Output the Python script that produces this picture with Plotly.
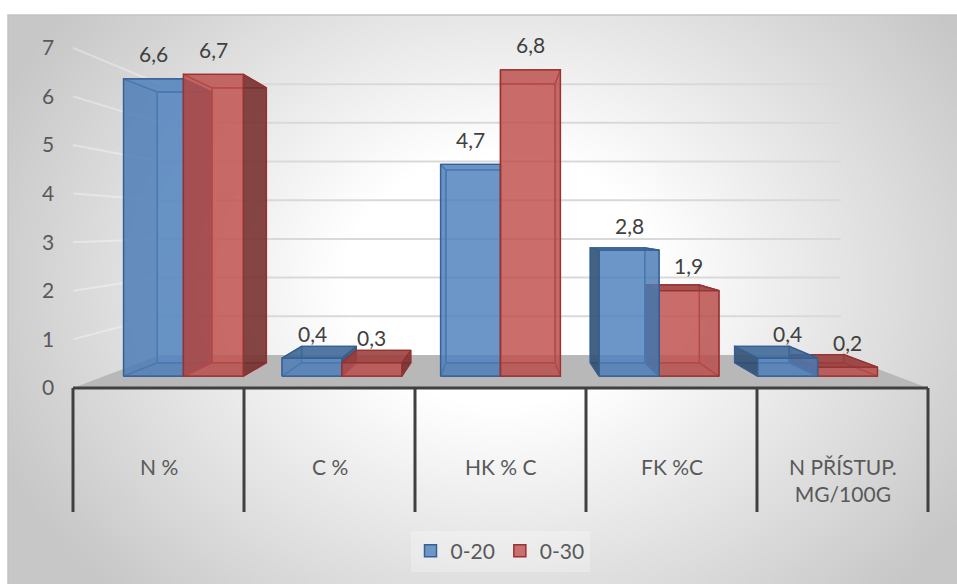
import numpy as np
import plotly.graph_objects as go

# ---- data -------------------------------------------------------------
categories = ["N %", "C %", "HK % C", "FK %C", "N PŘÍSTUP. MG/100G"]
series_names = ["0-20", "0-30"]
values_0_20 = [6.6, 0.4, 4.7, 2.8, 0.4]
values_0_30 = [6.7, 0.3, 6.8, 1.9, 0.2]
y_ticks = [0, 1, 2, 3, 4, 5, 6, 7]

series_values = [values_0_20, values_0_30]
series_rgb = [(79, 129, 189), (192, 80, 77)]
series_edge = ["rgb(54,96,146)", "rgb(152,50,48)"]

# ---- figure geometry (pixels) ----------------------------------------
W, H = 957, 584
OX, OY = 73.0, 388.0      # pixel of (x=0, y=0) on the front plane
PX, PY = 171.0, 48.6      # pixels per category / per value unit

# one-point perspective: vanishing point and depth scales
XV, YV = 2.5, 3.333
S_FRONT, S_BACK, S_WALL = 0.927, 0.844, 0.796
BAR_W = 0.378
TABLE_BOTTOM = (OY - 512) / PY


def px_x(p):
    return (p - OX) / PX


def px_y(p):
    return (OY - p) / PY


def proj(x, y, s):
    return XV + (x - XV) * s, YV + (y - YV) * s


def rgba(rgb, a, k=1.0):
    r, g, b = (int(round(c * k)) for c in rgb)
    return f"rgba({r},{g},{b},{a})"


fig = go.Figure()

# ---- background gradient of the chart area ---------------------------
nx, ny = 96, 57
ex = np.linspace(8, W, nx + 1)
ey = np.linspace(H, 15, ny + 1)          # bottom -> top in data order
cx = (ex[:-1] + ex[1:]) / 2
cy = (ey[:-1] + ey[1:]) / 2
GX, GY = np.meshgrid(cx, cy)
r = np.sqrt(((GX - 500) / 520) ** 2 + ((GY - 280) / 420) ** 2)
t = np.clip((r - 0.3) / 0.75, 0, 1)
shade = 255 - 56 * t
fig.add_trace(go.Heatmap(
    x=px_x(ex), y=px_y(ey), z=shade, zmin=0, zmax=255,
    colorscale=[[0, "rgb(0,0,0)"], [1, "rgb(255,255,255)"]],
    zsmooth="best", showscale=False, hoverinfo="skip",
))

# ---- back wall gridlines ---------------------------------------------
gx, gy = [], []
for k in y_ticks[1:]:
    for p in (proj(0, k, S_WALL), proj(5, k, S_WALL)):
        gx.append(p[0]); gy.append(p[1])
    gx.append(None); gy.append(None)
fig.add_trace(go.Scatter(x=gx, y=gy, mode="lines",
                         line=dict(color="#d9d9d9", width=2),
                         hoverinfo="skip", showlegend=False))

# ---- side wall gridlines ---------------------------------------------
lx, ly = [], []
for k in y_ticks[1:]:
    for p in (proj(0, k, 1.0), proj(0, k, S_WALL)):
        lx.append(p[0]); ly.append(p[1])
    lx.append(None); ly.append(None)
fig.add_trace(go.Scatter(x=lx, y=ly, mode="lines",
                         line=dict(color="rgba(255,255,255,0.35)", width=2),
                         hoverinfo="skip", showlegend=False))

# ---- floor -----------------------------------------------------------
floor = [proj(0, 0, 1.0), proj(5, 0, 1.0), proj(5, 0, S_WALL), proj(0, 0, S_WALL), proj(0, 0, 1.0)]
fig.add_trace(go.Scatter(x=[p[0] for p in floor], y=[p[1] for p in floor],
                         mode="lines", fill="toself", fillcolor="#b8b8b8",
                         line=dict(width=0, color="#b8b8b8"),
                         hoverinfo="skip", showlegend=False))

# ---- 3-D columns -----------------------------------------------------
bars = []
for j, vals in enumerate(series_values):
    for i, v in enumerate(vals):
        x0 = i + 0.5 - BAR_W + j * BAR_W
        bars.append((abs(x0 + BAR_W / 2 - XV), i, j, x0, v))
bars.sort(key=lambda b: -b[0])


def face(pts, fill, edge):
    pp = [proj(*p) for p in pts] + [proj(*pts[0])]
    fig.add_trace(go.Scatter(x=[p[0] for p in pp], y=[p[1] for p in pp],
                             mode="lines", fill="toself", fillcolor=fill,
                             line=dict(color=edge, width=1.3),
                             hoverinfo="skip", showlegend=False))


for _, i, j, x0, v in bars:
    x1 = x0 + BAR_W
    base, edge = series_rgb[j], series_edge[j]
    sf, sb = S_FRONT, S_BACK
    back = [(x0, 0, sb), (x1, 0, sb), (x1, v, sb), (x0, v, sb)]
    bottom = [(x0, 0, sf), (x1, 0, sf), (x1, 0, sb), (x0, 0, sb)]
    left = [(x0, 0, sf), (x0, v, sf), (x0, v, sb), (x0, 0, sb)]
    right = [(x1, 0, sf), (x1, v, sf), (x1, v, sb), (x1, 0, sb)]
    top = [(x0, v, sf), (x1, v, sf), (x1, v, sb), (x0, v, sb)]
    front = [(x0, 0, sf), (x1, 0, sf), (x1, v, sf), (x0, v, sf)]

    left_vis, right_vis, top_vis = x0 > XV, x1 < XV, v < YV
    face(back, rgba(base, 0.35), edge)
    face(bottom, rgba(base, 0.35, 0.6), edge)
    if not left_vis:
        face(left, rgba(base, 0.35, 0.6), edge)
    if not right_vis:
        face(right, rgba(base, 0.35, 0.6), edge)
    if not top_vis:
        face(top, rgba(base, 0.35, 0.8), edge)
    face(front, rgba(base, 0.75), edge)
    if left_vis:
        face(left, rgba(base, 0.85, 0.6), edge)
    if right_vis:
        face(right, rgba(base, 0.85, 0.6), edge)
    if top_vis:
        face(top, rgba(base, 0.85, 0.8), edge)

# legend entries for the two depth series
for j, name in enumerate(series_names):
    fig.add_trace(go.Bar(x=[None], y=[None], name=name,
                         marker=dict(color=rgba(series_rgb[j], 0.8),
                                     line=dict(color=series_edge[j], width=1.5))))

# ---- data labels -----------------------------------------------------
annotations = []
for j, vals in enumerate(series_values):
    for i, v in enumerate(vals):
        x0 = i + 0.5 - BAR_W + j * BAR_W
        lx_, ly_ = proj(x0 + BAR_W / 2, v, S_FRONT)
        annotations.append(dict(
            x=lx_, y=ly_, xref="x", yref="y", yshift=25, yanchor="middle",
            text=f"{v:.1f}".replace(".", ","), showarrow=False,
            font=dict(family="Lato", size=21, color="#404040")))

# category labels in the table under the floor
for i, c in enumerate(categories):
    annotations.append(dict(
        x=i + 0.5, y=px_y(452), xref="x", yref="y", yanchor="top",
        text=c.replace(". ", ".<br>"), showarrow=False,
        font=dict(family="Lato", size=21, color="#595959")))

# ---- table lines -----------------------------------------------------
shapes = [dict(type="line", xref="x", yref="y", x0=0, x1=5, y0=0, y1=0,
               line=dict(color="#404040", width=3))]
for k in range(len(categories) + 1):
    shapes.append(dict(type="line", xref="x", yref="y", x0=k, x1=k,
                       y0=0, y1=TABLE_BOTTOM, line=dict(color="#404040", width=3)))
shapes.append(dict(type="rect", xref="paper", yref="paper",
                   x0=8 / W, x1=1.01, y0=-0.01, y1=1 - 15 / H,
                   line=dict(color="#c4c4c4", width=1.5)))

fig.update_layout(
    width=W, height=H,
    margin=dict(l=0, r=0, t=0, b=0),
    paper_bgcolor="white", plot_bgcolor="rgba(0,0,0,0)",
    font=dict(family="Lato", size=20, color="#595959"),
    xaxis=dict(range=[px_x(0), px_x(W)], visible=False, fixedrange=True),
    yaxis=dict(range=[px_y(H), px_y(0)], tickvals=y_ticks,
               ticktext=[str(v) for v in y_ticks],
               ticklabelposition="inside", ticklabelstandoff=39,
               showgrid=False, zeroline=False, showline=False, ticks="",
               tickfont=dict(family="Lato", size=21, color="#595959"),
               fixedrange=True),
    showlegend=True,
    legend=dict(orientation="h", x=500 / W, xanchor="center",
                y=1 - 551 / H, yanchor="middle",
                font=dict(family="Lato", size=21, color="#595959"),
                bgcolor="rgba(255,255,255,0.25)"),
    annotations=annotations,
    shapes=shapes,
)

fig.write_html("out.html")
